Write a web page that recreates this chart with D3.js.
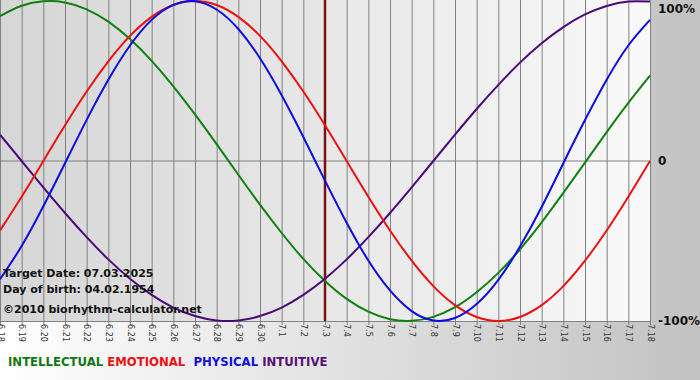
<!DOCTYPE html>
<html><head><meta charset="utf-8">
<script src="https://cdn.jsdelivr.net/npm/d3@7"></script>
<style>html,body{margin:0;padding:0;background:#fff;}svg{display:block;}</style>
</head><body>
<svg id="chart" width="700" height="380"></svg>
<script>
const dates = ["6.18","6.19","6.20","6.21","6.22","6.23","6.24","6.25","6.26","6.27","6.28","6.29","6.30",
  "7.1","7.2","7.3","7.4","7.5","7.6","7.7","7.8","7.9","7.10","7.11","7.12","7.13","7.14","7.15","7.16","7.17","7.18"];
const intellectual = [90.6,97.0,99.8,99.1,94.8,87.1,76.2,62.6,46.7,29.1,10.5,-8.6,-27.3,-45.0,-61.2,-75.0,-86.2,-94.2,-98.9,-99.9,-97.4,-91.4,-82.0,-69.9,-55.2,-38.3,-19.9,-1.0,18.0,36.3,53.3];
const emotional = [-43.4,-22.3,0,22.3,43.4,62.3,78.2,90.1,97.5,100,97.5,90.1,78.2,62.3,43.4,22.3,0,-22.3,-43.4,-62.3,-78.2,-90.1,-97.5,-100,-97.5,-90.1,-78.2,-62.3,-43.4,-22.3,0];
const physical = [-73.9,-53.1,-28.3,-1.4,25.7,50.8,72.2,88.2,97.6,99.9,94.7,82.5,64.2,41.1,15.0,-12.3,-38.6,-62.2,-80.9,-93.8,-99.7,-98.1,-89.4,-74.3,-53.5,-28.8,-1.4,25.6,50.8,72.2,88.2];
const intuitive = [16.5,0,-16.5,-32.5,-47.6,-61.5,-73.6,-83.7,-91.6,-96.9,-99.7,-99.7,-96.9,-91.6,-83.7,-73.6,-61.5,-47.6,-32.5,-16.5,0,16.5,32.5,47.6,61.5,73.6,83.7,91.6,96.9,99.7,99.7];
const yTicks = [100, 0, -100];
const yTickLabels = ["100%", "0", "-100%"];
const targetDate = "7.3";
const infoLines = ["Target Date: 07.03.2025", "Day of birth: 04.02.1954", "\u00a92010 biorhythm-calculator.net"];
const legendNames = ["INTELLECTUAL", "EMOTIONAL", "PHYSICAL", "INTUITIVE"];

const svg = d3.select("#chart");
const W = 700, H = 380;
const plotL = 0, plotR = 650, plotT = 1, plotB = 321;

const defs = svg.append("defs");
const gOuter = defs.append("linearGradient").attr("id","outerGrad").attr("x1","0").attr("x2","1").attr("y1","0").attr("y2","0");
gOuter.append("stop").attr("offset","0").attr("stop-color","#ffffff");
gOuter.append("stop").attr("offset","1").attr("stop-color","#c2c2c2");
const gPlot = defs.append("linearGradient").attr("id","plotGrad").attr("x1","0").attr("x2","1").attr("y1","0").attr("y2","0");
gPlot.append("stop").attr("offset","0").attr("stop-color","#d6d6d6");
gPlot.append("stop").attr("offset","1").attr("stop-color","#f9f9f9");
defs.append("clipPath").attr("id","clip").append("rect")
  .attr("x",plotL).attr("y",0).attr("width",plotR-plotL+1).attr("height",plotB+1);

svg.append("rect").attr("width",W).attr("height",H).attr("fill","url(#outerGrad)");
svg.append("rect").attr("x",plotL).attr("y",0).attr("width",plotR-plotL+1).attr("height",plotB)
  .attr("fill","url(#plotGrad)");

const x = d3.scaleLinear().domain([0, dates.length-1]).range([plotL, plotR]);
const y = d3.scaleLinear().domain([-100, 100]).range([plotB, plotT]);

// vertical grid + x axis
const xAxis = d3.axisBottom(x).tickValues(d3.range(dates.length)).tickFormat(i => dates[i])
  .tickSizeInner(4).tickSizeOuter(0);
const gx = svg.append("g").attr("transform", `translate(0,${plotB})`).call(xAxis);
gx.select(".domain").attr("stroke","#808080");
gx.selectAll(".tick line").attr("stroke","#808080").attr("y1", -plotB).attr("y2", 4);
gx.selectAll(".tick text")
  .attr("transform","rotate(90)")
  .attr("x", 3).attr("y", 0).attr("dy","0.35em")
  .attr("text-anchor","start")
  .attr("fill","#333")
  .style("font-family","'DejaVu Sans', Verdana, sans-serif")
  .style("font-size","8px");

// horizontal zero line
svg.append("line").attr("x1",plotL).attr("x2",plotR).attr("y1",y(0)).attr("y2",y(0))
  .attr("stroke","#808080").attr("stroke-width",1);

// right labels
const yAxis = d3.axisRight(y).tickValues(yTicks).tickFormat((d,i)=>yTickLabels[i]).tickSize(0);
const gy = svg.append("g").attr("transform",`translate(${plotR+6},0)`).call(yAxis);
gy.select(".domain").remove();
gy.selectAll(".tick text").attr("x",2).attr("fill","#111")
  .style("font-family","'DejaVu Sans', Verdana, sans-serif").style("font-weight","bold").style("font-size","12px");
gy.selectAll(".tick").filter(d => d === 100).select("text").attr("dy","0.95em");

// target line
const ti = dates.indexOf(targetDate);
svg.append("line").attr("x1",x(ti)).attr("x2",x(ti)).attr("y1",0).attr("y2",plotB)
  .attr("stroke","#7a1010").attr("stroke-width",2.5);

// curves
const line = d3.line().x((d,i)=>x(i)).y(d=>y(d)).curve(d3.curveNatural);
const series = [
  {v: intellectual, c: "#108010"},
  {v: intuitive, c: "#4a0a7a"},
  {v: emotional, c: "#ee1010"},
  {v: physical, c: "#0c0ce0"}
];
const gc = svg.append("g").attr("clip-path","url(#clip)");
series.forEach(s => {
  gc.append("path").attr("d", line(s.v)).attr("fill","none").attr("stroke", s.c).attr("stroke-width",2);
});

// info text
const infoY = [277, 293, 313];
infoLines.forEach((t,i) => {
  svg.append("text").attr("x",3).attr("y",infoY[i]).text(t)
    .attr("fill","#111")
    .style("font-family","'DejaVu Sans', Verdana, sans-serif").style("font-weight","bold").style("font-size","11px");
});

// legend
const legendColors = ["#117711","#ee1111","#1111dd","#551177"];
const leg = svg.append("text").attr("x",8).attr("y",366)
  .style("font-family","'DejaVu Sans', Verdana, sans-serif").style("font-weight","bold").style("font-size","11.7px");
legendNames.forEach((n,i) => {
  leg.append("tspan").text((i ? (i===2 ? "\u00a0\u00a0" : "\u00a0") : "") + n).attr("fill", legendColors[i]);
});
</script>
</body></html>
